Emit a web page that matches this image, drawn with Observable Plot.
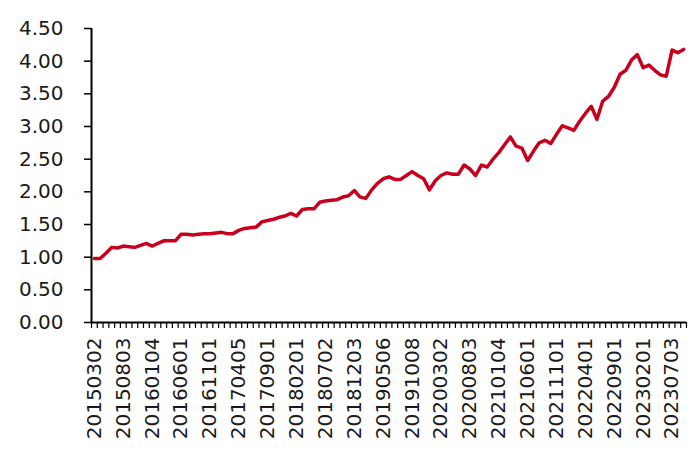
<!DOCTYPE html>
<html>
<head>
<meta charset="utf-8">
<script src="https://cdn.jsdelivr.net/npm/d3@7"></script>
<script src="https://cdn.jsdelivr.net/npm/@observablehq/plot@0.6"></script>
<style>
  html, body { margin: 0; padding: 0; background: #fff; }
  #chart { width: 693px; height: 453px; }
</style>
</head>
<body>
<div id="chart"></div>
<script>
// Monthly series, 2015-03 .. 2023-09 (103 months)
const values = [
  0.98, 0.98, 1.06, 1.15, 1.14, 1.17, 1.16, 1.15, 1.18, 1.21,
  1.17, 1.21, 1.25, 1.25, 1.25, 1.35, 1.35, 1.34, 1.35, 1.36,
  1.36, 1.37, 1.38, 1.36, 1.36, 1.41, 1.44, 1.45, 1.46, 1.54,
  1.56, 1.58, 1.61, 1.63, 1.67, 1.63, 1.73, 1.74, 1.74, 1.84,
  1.86, 1.87, 1.88, 1.92, 1.94, 2.02, 1.92, 1.90, 2.03, 2.13,
  2.20, 2.23, 2.19, 2.19, 2.25, 2.31, 2.25, 2.20, 2.03, 2.17,
  2.25, 2.29, 2.27, 2.27, 2.41, 2.35, 2.25, 2.41, 2.38, 2.50,
  2.60, 2.72, 2.84, 2.70, 2.67, 2.48, 2.62, 2.75, 2.79, 2.74,
  2.88, 3.01, 2.98, 2.94, 3.08, 3.20, 3.31, 3.11, 3.39, 3.46,
  3.60, 3.80, 3.86, 4.02, 4.10, 3.90, 3.94, 3.86, 3.79, 3.77,
  4.17, 4.13, 4.18
];

// Visible category labels (every 5th month)
const tickLabels = [
  "20150302", "20150803", "20160104", "20160601", "20161101",
  "20170405", "20170901", "20180201", "20180702", "20181203",
  "20190506", "20191008", "20200302", "20200803", "20210104",
  "20210601", "20211101", "20220401", "20220901", "20230201",
  "20230703"
];
const labelStep = 5;

const yTicks = [0, 0.5, 1, 1.5, 2, 2.5, 3, 3.5, 4, 4.5];

const n = values.length;
const data = values.map((v, i) => ({i, v}));
const labelPositions = tickLabels.map((_, k) => k * labelStep);
const boundaries = d3.range(n + 1).map(k => k - 0.5);

const chart = Plot.plot({
  width: 693,
  height: 453,
  marginLeft: 91,
  marginRight: 7,
  marginTop: 28,
  marginBottom: 131,
  style: {fontFamily: "'DejaVu Sans', sans-serif", color: "#1a1a1a", background: "#fff"},
  x: {domain: [-0.5, n - 0.5], axis: null, label: null},
  y: {domain: [0, 4.5], axis: null, label: null},
  marks: [
    Plot.axisY({
      ticks: yTicks,
      tickFormat: d => d.toFixed(2),
      tickSize: 7,
      tickPadding: 21,
      fontSize: 20,
      stroke: "#000",
      strokeWidth: 1.5,
      label: null
    }),
    Plot.axisX({
      ticks: boundaries,
      tickFormat: () => "",
      tickSize: 6,
      stroke: "#000",
      strokeWidth: 1.2,
      label: null
    }),
    Plot.axisX({
      ticks: labelPositions,
      tickFormat: i => tickLabels[i / labelStep],
      tickSize: 0,
      tickPadding: 15,
      tickRotate: -90,
      fontSize: 20,
      label: null
    }),
    Plot.ruleX([-0.5], {stroke: "#000", strokeWidth: 2}),
    Plot.ruleY([0], {stroke: "#000", strokeWidth: 2}),
    Plot.lineY(data, {x: "i", y: "v", stroke: "#C8001E", strokeWidth: 3.5, strokeLinejoin: "round"})
  ]
});

document.getElementById("chart").appendChild(chart);
</script>
</body>
</html>
